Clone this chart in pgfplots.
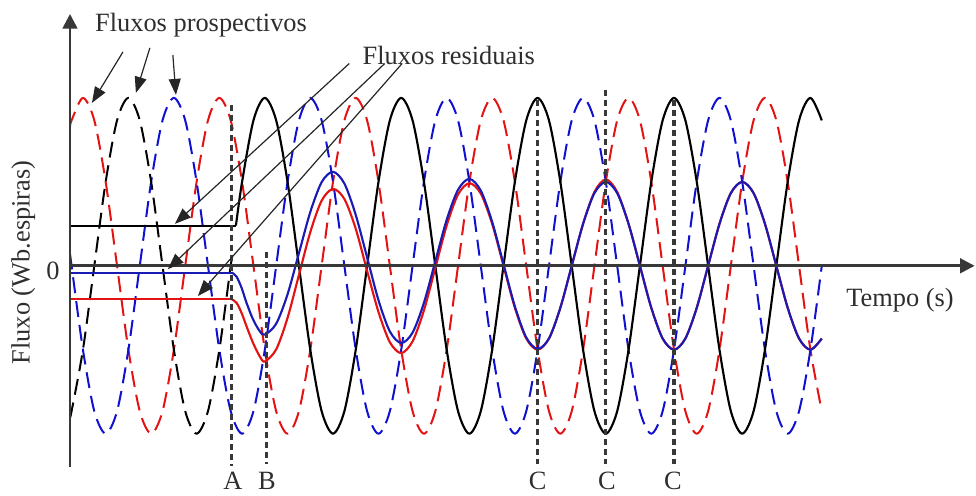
\documentclass[border=0pt]{standalone}
\usepackage{pgfplots}
\pgfplotsset{compat=1.18}
\usepackage{fontspec}
\setmainfont{Liberation Serif}
\usetikzlibrary{arrows.meta}

\definecolor{axisgray}{HTML}{383838}
\definecolor{txtgray}{HTML}{2E2E2E}
\definecolor{fluxB}{HTML}{1010D0}
\definecolor{fluxBs}{HTML}{1A1AB4}
\definecolor{fluxC}{HTML}{E41212}

\newcommand\lbl{\fontsize{19.8}{24}\selectfont}

\begin{document}
\begin{tikzpicture}
\begin{axis}[
  scale only axis, width=732pt, height=372pt,
  xmin=-23.297, xmax=62.505, ymin=-1.369, ymax=1.5833,
  axis lines=none, clip=false,
  every axis plot/.append style={line join=round, line cap=butt},
  prosp/.style={line width=1.5pt, dash pattern=on 12pt off 6pt, smooth},
  real/.style={line width=1.6pt, smooth},
  marker/.style={axisgray, line width=2.3pt, dash pattern=on 4.5pt off 3pt},
]
\path (rel axis cs:0,0) rectangle (rel axis cs:1,1);

% prospective fluxes (one period = 12 time units)
\addplot[prosp, fluxC] coordinates {
 (-17.14,0.827) (-17,0.866) (-16,1) (-15,0.866) (-14,0.5) (-13,0) (-12,-0.5) (-11,-0.866) (-10,-1) (-9,-0.866) (-8,-0.5) (-7,0) (-6,0.5) (-5,0.866)
 (-4,1) (-3,0.866) (-2,0.5) (-1,0)
 (0,-0.5) (1,-0.866) (2,-1) (3,-0.866) (4,-0.5) (5,0) (6,0.5) (7,0.866) (8,1) (9,0.866) (10,0.5) (11,0)
 (12,-0.5) (13,-0.866) (14,-1) (15,-0.866) (16,-0.5) (17,0) (18,0.5) (19,0.866) (20,1) (21,0.866) (22,0.5) (23,0)
 (24,-0.5) (25,-0.866) (26,-1) (27,-0.866) (28,-0.5) (29,0) (30,0.5) (31,0.866) (32,1) (33,0.866) (34,0.5) (35,0)
 (36,-0.5) (37,-0.866) (38,-1) (39,-0.866) (40,-0.5) (41,0) (42,0.5) (43,0.866) (44,1) (45,0.866) (46,0.5) (47,0)
 (48,-0.5) (49,-0.866)
};
\addplot[prosp, fluxB] coordinates {
 (-17.14,0.073) (-17,0) (-16,-0.5) (-15,-0.866) (-14,-1) (-13,-0.866) (-12,-0.5) (-11,0) (-10,0.5) (-9,0.866) (-8,1) (-7,0.866) (-6,0.5) (-5,0)
 (-4,-0.5) (-3,-0.866) (-2,-1) (-1,-0.866)
 (0,-0.5) (1,0) (2,0.5) (3,0.866) (4,1) (5,0.866) (6,0.5) (7,0) (8,-0.5) (9,-0.866) (10,-1) (11,-0.866)
 (12,-0.5) (13,0) (14,0.5) (15,0.866) (16,1) (17,0.866) (18,0.5) (19,0) (20,-0.5) (21,-0.866) (22,-1) (23,-0.866)
 (24,-0.5) (25,0) (26,0.5) (27,0.866) (28,1) (29,0.866) (30,0.5) (31,0) (32,-0.5) (33,-0.866) (34,-1) (35,-0.866)
 (36,-0.5) (37,0) (38,0.5) (39,0.866) (40,1) (41,0.866) (42,0.5) (43,0) (44,-0.5) (45,-0.866) (46,-1) (47,-0.866)
 (48,-0.5) (49,0)
};
\addplot[prosp, black] coordinates {
 (-17.14,-0.9) (-17,-0.866) (-16,-0.5) (-15,0) (-14,0.5) (-13,0.866) (-12,1) (-11,0.866) (-10,0.5) (-9,0) (-8,-0.5) (-7,-0.866) (-6,-1) (-5,-0.866)
 (-4,-0.5) (-3,0) (-2.9,0.052)
};

% residual flux levels before opening
\addplot[line width=1.5pt, black] coordinates {(-17.14,0.24) (-2.54,0.24)};
\addplot[line width=1.5pt, fluxC] coordinates {(-17.14,-0.2) (-2.9,-0.2)};
\addplot[line width=1.5pt, fluxBs] coordinates {(-17.14,-0.04) (-2.9,-0.04)};

% actual fluxes after opening
\addplot[real, black] coordinates {
 (-2.54,0.24) (-2,0.5) (-1,0.866)
 (0,1) (1,0.866) (2,0.5) (3,0) (4,-0.5) (5,-0.866) (6,-1) (7,-0.866) (8,-0.5) (9,0) (10,0.5) (11,0.866)
 (12,1) (13,0.866) (14,0.5) (15,0) (16,-0.5) (17,-0.866) (18,-1) (19,-0.866) (20,-0.5) (21,0) (22,0.5) (23,0.866)
 (24,1) (25,0.866) (26,0.5) (27,0) (28,-0.5) (29,-0.866) (30,-1) (31,-0.866) (32,-0.5) (33,0) (34,0.5) (35,0.866)
 (36,1) (37,0.866) (38,0.5) (39,0) (40,-0.5) (41,-0.866) (42,-1) (43,-0.866) (44,-0.5) (45,0) (46,0.5) (47,0.866)
 (48,1) (49,0.866)
};
\addplot[real, fluxC] coordinates {
 (-2.9,-0.2) (-2.49,-0.22) (-2.05,-0.28) (-1.61,-0.36) (-1.03,-0.46) (-0.44,-0.54)
 (0,-0.57) (1,-0.498) (2,-0.31) (3,-0.055) (4,0.2) (5,0.388) (6,0.458) (7,0.398) (8,0.22) (9,-0.03) (10,-0.275) (11,-0.455)
 (12,-0.52) (13,-0.45) (14,-0.265) (15,-0.013) (16,0.24) (17,0.425) (18,0.492) (19,0.43) (20,0.25) (21,0) (22,-0.25) (23,-0.433)
 (24,-0.5) (25,-0.433) (26,-0.25) (27,0) (28,0.25) (29,0.44) (30,0.515) (31,0.44) (32,0.25) (33,0) (34,-0.25) (35,-0.433)
 (36,-0.5) (37,-0.433) (38,-0.25) (39,0) (40,0.25) (41,0.433) (42,0.5) (43,0.433) (44,0.25) (45,0) (46,-0.25) (47,-0.433)
 (48,-0.5) (49,-0.433)
};
\addplot[real, fluxBs] coordinates {
 (-2.9,-0.04) (-2.49,-0.064) (-2.05,-0.13) (-1.61,-0.22) (-1.03,-0.32) (-0.44,-0.39)
 (0,-0.41) (1,-0.345) (2,-0.17) (3,0.075) (4,0.32) (5,0.498) (6,0.56) (7,0.49) (8,0.303) (9,0.05) (10,-0.205) (11,-0.391)
 (12,-0.46) (13,-0.398) (14,-0.22) (15,0.027) (16,0.274) (17,0.453) (18,0.518) (19,0.448) (20,0.262) (21,0.01) (22,-0.242) (23,-0.427)
 (24,-0.495) (25,-0.433) (26,-0.25) (27,0) (28,0.25) (29,0.433) (30,0.5) (31,0.433) (32,0.25) (33,0) (34,-0.25) (35,-0.433)
 (36,-0.5) (37,-0.433) (38,-0.25) (39,0) (40,0.25) (41,0.433) (42,0.5) (43,0.433) (44,0.25) (45,0) (46,-0.25) (47,-0.433)
 (48,-0.5) (49,-0.433)
};

% instants A, B and C
\addplot[marker] coordinates {(-2.9,0.96) (-2.9,-1.19)};
\addplot[marker] coordinates {(0.15,0.083) (0.15,-1.18)};
\addplot[marker] coordinates {(24,0.99) (24,-1.18)};
\addplot[marker] coordinates {(30,1.05) (30,-1.18)};
\addplot[marker] coordinates {(36,0.99) (36,-1.18)};

% axes
\draw[axisgray, line width=2pt, -{Triangle[length=11pt,width=11pt]}] (axis cs:-17.14,0) -- (axis cs:62.45,0);
\draw[axisgray, line width=2pt, -{Triangle[length=11pt,width=11pt]}] (axis cs:-17.14,-1.196) -- (axis cs:-17.14,1.50);

% callouts
\begin{scope}[black!85, line width=0.9pt, -{Triangle[length=12pt,width=9pt]}]
\draw (axis cs:-12.48,1.274) -- (axis cs:-15.21,0.970);
\draw (axis cs:-10.11,1.298) -- (axis cs:-11.34,1.030);
\draw (axis cs:-8.09,1.256) -- (axis cs:-7.82,1.018);
\draw (axis cs:7.43,1.205) -- (axis cs:-7.91,0.25);
\draw (axis cs:10.55,1.205) -- (axis cs:-8.53,-0.02);
\draw (axis cs:12.08,1.205) -- (axis cs:-5.89,-0.18);
\end{scope}

\begin{scope}[every node/.style={text=txtgray, font=\lbl, inner sep=0pt}]
\node[anchor=base west] at (axis cs:-14.95,1.393) {Fluxos prospectivos};
\node[anchor=base west] at (axis cs:8.59,1.202) {Fluxos residuais};
\node[anchor=base west] at (axis cs:51.14,-0.242) {Tempo (s)};
\node[rotate=90] at (axis cs:-21.25,0.02) {Fluxo (Wb.espiras)};
\node at (axis cs:-18.64,-0.03) {0};
\node[anchor=base] at (axis cs:-2.81,-1.333) {A};
\node[anchor=base] at (axis cs:0.18,-1.333) {B};
\node[anchor=base] at (axis cs:24,-1.333) {C};
\node[anchor=base] at (axis cs:30.1,-1.333) {C};
\node[anchor=base] at (axis cs:35.9,-1.333) {C};
\end{scope}
\end{axis}
\end{tikzpicture}
\end{document}
